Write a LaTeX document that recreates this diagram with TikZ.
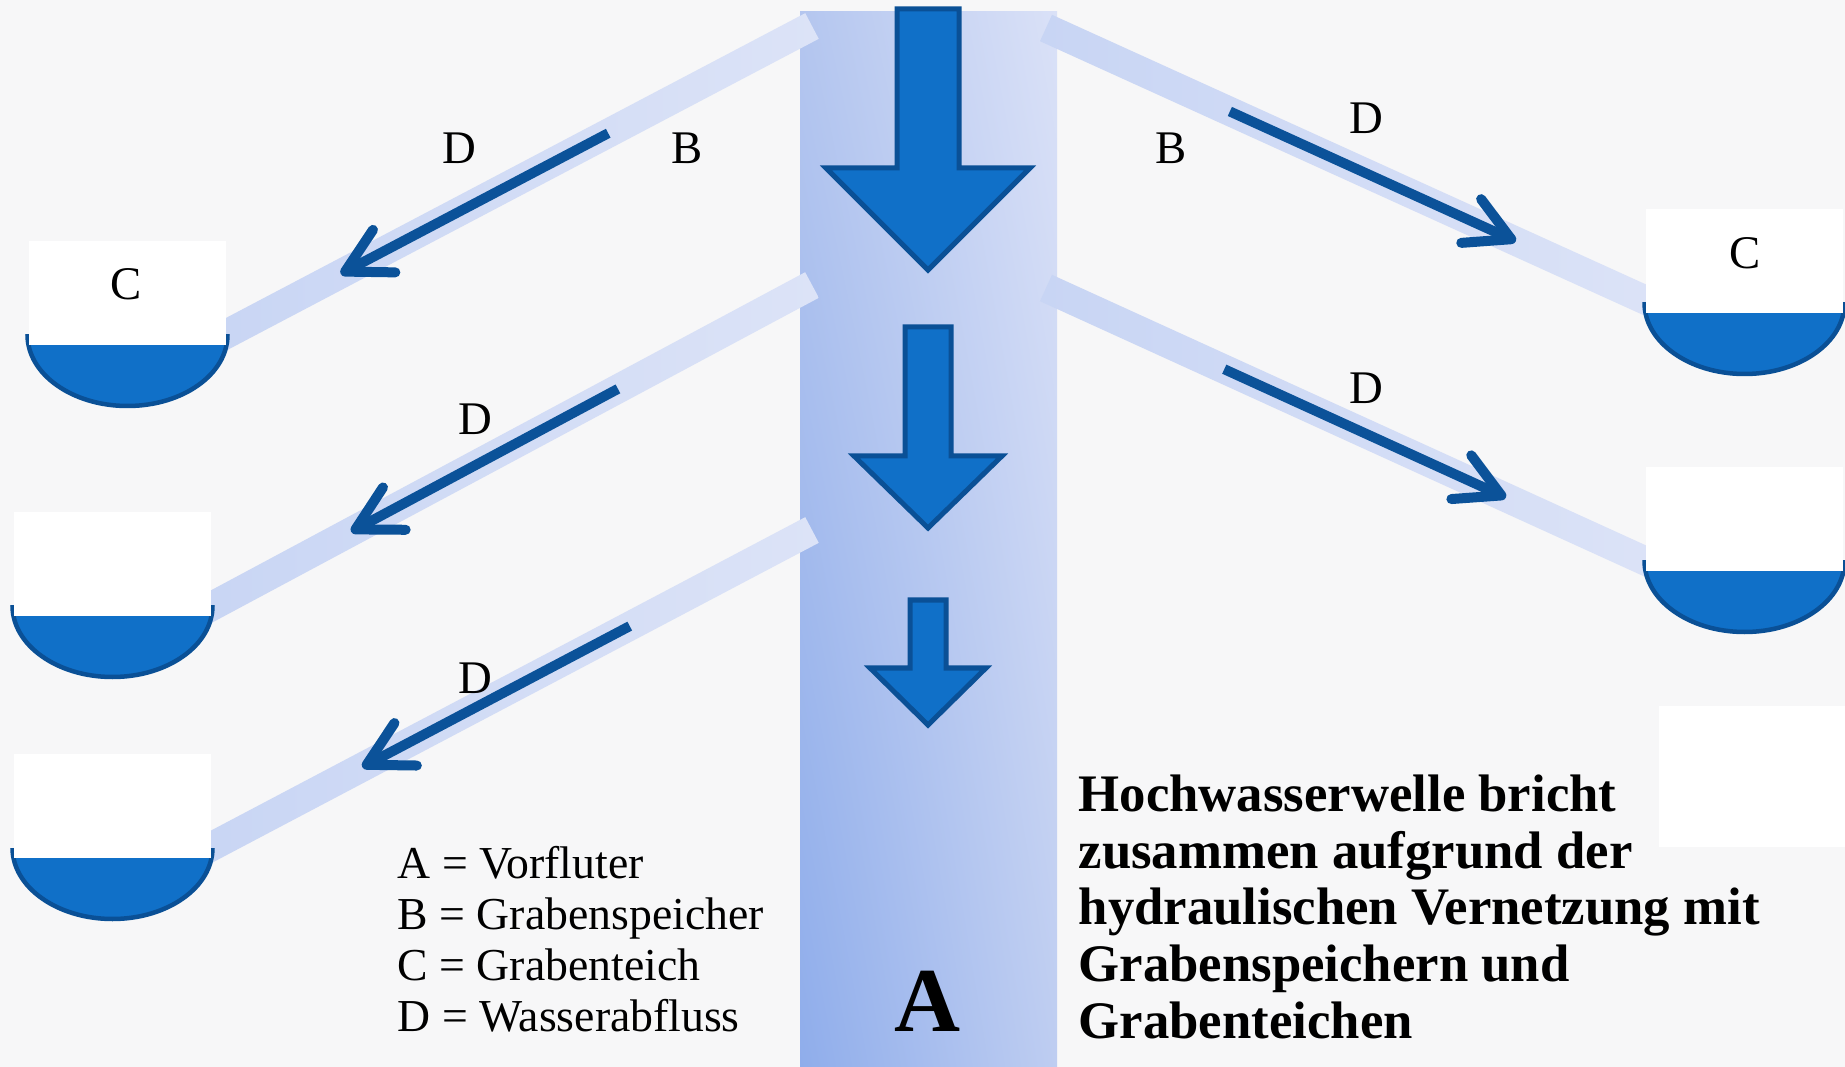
\documentclass[tikz,border=0pt]{standalone}
\usepackage{fontspec}
\setmainfont{Liberation Serif}
\usepackage{tikz}
\usetikzlibrary{arrows.meta,calc,shadings}

\definecolor{paper}{RGB}{247,247,248}
\definecolor{water}{RGB}{16,112,200}
\definecolor{waterline}{RGB}{10,80,150}
\definecolor{flowblue}{RGB}{11,82,153}
\definecolor{pipe}{RGB}{220,227,247}
\definecolor{pipeshade}{RGB}{200,213,244}
\definecolor{vfUL}{RGB}{180,198,239}
\definecolor{vfUR}{RGB}{218,225,247}
\definecolor{vfLL}{RGB}{143,173,235}
\definecolor{vfLR}{RGB}{190,205,241}

% Grabenspeicher band from #1 to #2
\newcommand{\speicher}[2]{%
  \shade[left color=pipeshade, middle color=pipe, right color=pipe]
    ($(#1)!0.145cm!90:(#2)$) -- ($(#2)!0.145cm!-90:(#1)$) --
    ($(#2)!0.145cm!90:(#1)$) -- ($(#1)!0.145cm!-90:(#2)$) -- cycle;
}
% Grabenteich: left x, top y of the white part
\newcommand{\teich}[2]{%
  \begin{scope}
    \clip (#1-10,#2+94) rectangle (#1+210,#2+180);
    \filldraw[fill=water, draw=waterline, line width=0.045cm]
      (#1+98.5,#2+94) ellipse [x radius=100, y radius=71];
  \end{scope}
  \fill[white] (#1,#2) rectangle (#1+197,#2+104);
}

\begin{document}
\begin{tikzpicture}[
    x=0.01cm, y=-0.01cm,
    flow/.style={-{Straight Barb[length=4.4mm,width=4.8mm,round]}, line width=0.1cm, draw=flowblue},
    bigarrow/.style={fill=water, draw=waterline, line width=0.05cm, line join=miter},
    lbl/.style={inner sep=0pt, font=\fontsize{13.3}{16}\selectfont}
]
\useasboundingbox (0,0) rectangle (1845,1067);
% background
\fill[paper] (0,0) rectangle (1845,1067);
\fill[white] (1659,706) rectangle (1845,847);

% Vorfluter
\shade[upper left=vfUL, upper right=vfUR, lower left=vfLL, lower right=vfLR]
  (800,12) rectangle (1057,1067);

% pipe ends
\coordinate (l1a) at (812,26);   \coordinate (l1b) at (200,348);
\coordinate (l2a) at (812,285);  \coordinate (l2b) at (190,618);
\coordinate (l3a) at (812,530);  \coordinate (l3b) at (190,858);
\coordinate (r1a) at (1046,28);  \coordinate (r1b) at (1665,309);
\coordinate (r2a) at (1046,288); \coordinate (r2b) at (1665,570);

% Grabenspeicher
\speicher{l1b}{l1a}
\speicher{l2b}{l2a}
\speicher{l3b}{l3a}
\speicher{r1a}{r1b}
\speicher{r2a}{r2b}

% Grabenteiche
\teich{29}{241}
\teich{14}{512}
\teich{14}{754}
\teich{1646}{209}
\teich{1646}{467}

% big arrows in the Vorfluter
\draw[bigarrow] (897,9) -- (959,9) -- (959,168) -- (1030,168) -- (928,270) -- (826,168) -- (897,168) -- cycle;
\draw[bigarrow] (905,327) -- (951,327) -- (951,456) -- (1002,456) -- (928,528) -- (854,456) -- (905,456) -- cycle;
\draw[bigarrow] (910,600) -- (946,600) -- (946,668) -- (986,668) -- (928,725) -- (870,668) -- (910,668) -- cycle;

% Wasserabfluss
\coordinate (f1s) at ($(l1a)!0.333!(l1b)$); \coordinate (f1e) at ($(l1a)!0.77!(l1b)$);
\coordinate (f2s) at ($(l2a)!0.312!(l2b)$); \coordinate (f2e) at ($(l2a)!0.741!(l2b)$);
\coordinate (f3s) at ($(l3a)!0.293!(l3b)$); \coordinate (f3e) at ($(l3a)!0.723!(l3b)$);
\coordinate (f4s) at ($(r1a)!0.297!(r1b)$); \coordinate (f4e) at ($(r1a)!0.759!(r1b)$);
\coordinate (f5s) at ($(r2a)!0.288!(r2b)$); \coordinate (f5e) at ($(r2a)!0.743!(r2b)$);
\draw[flow] (f1s) -- (f1e);
\draw[flow] (f2s) -- (f2e);
\draw[flow] (f3s) -- (f3e);
\draw[flow] (f4s) -- (f4e);
\draw[flow] (f5s) -- (f5e);

% labels
\node[lbl] (dl1) at (459,148) {D};
\node[lbl] (bl) at (687,148) {B};
\node[lbl] (cl) at (126,284) {C};
\node[lbl] (dl2) at (475,419) {D};
\node[lbl] (dl3) at (475,678) {D};
\node[lbl] (br) at (1171,148) {B};
\node[lbl] (dr1) at (1366,118) {D};
\node[lbl] (cr) at (1745,253) {C};
\node[lbl] (dr2) at (1366,388) {D};
\node[inner sep=0pt, font=\fontsize{26}{30}\selectfont\bfseries] (vorfluter) at (928,1001) {A};

\node[anchor=north west, inner sep=0pt, align=left, font=\fontsize{13}{14.5}\selectfont] (legende) at (397,846)
  {A = Vorfluter\\B = Grabenspeicher\\C = Grabenteich\\D = Wasserabfluss};
\node[anchor=north west, inner sep=0pt, align=left, font=\fontsize{15}{16.15}\selectfont\bfseries] (fazit) at (1078,774)
  {Hochwasserwelle bricht\\zusammen aufgrund der\\hydraulischen Vernetzung mit\\Grabenspeichern und\\Grabenteichen};
\end{tikzpicture}
\end{document}
